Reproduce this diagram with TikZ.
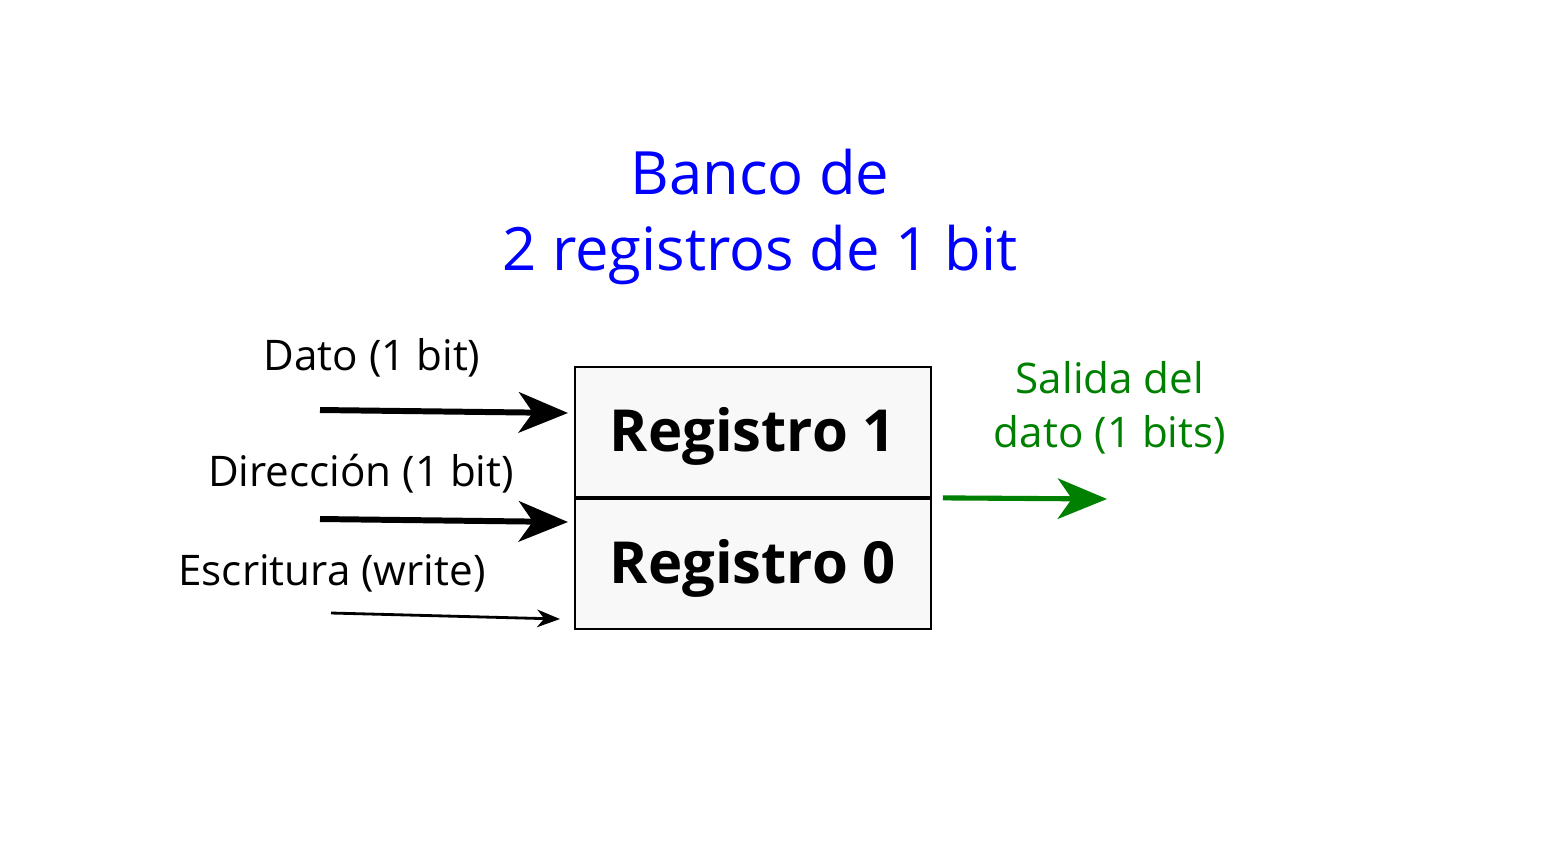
\documentclass[tikz,border=0pt]{standalone}
\usepackage{fontspec}
\setmainfont{Open Sans}
\usetikzlibrary{arrows.meta,positioning,calc}
\definecolor{salida}{RGB}{0,128,0}
\definecolor{regfill}{RGB}{248,248,248}

\begin{document}
\begin{tikzpicture}[x=0.02cm,y=-0.02cm,
    reg/.style={draw,line width=1pt,fill=regfill,minimum width=356*0.02cm,minimum height=130*0.02cm,
                inner sep=0pt,text height=22pt,text depth=0pt,font=\fontsize{33}{40}\selectfont\bfseries},
    lbl/.style={font=\fontsize{24}{28}\selectfont},
    gruesa/.style={line width=3.4pt,-{Stealth[length=28pt,width=23pt,inset=8pt]}},
    fina/.style={line width=1.6pt,-{Stealth[length=13pt,width=10pt,inset=4pt]}}]
    \useasboundingbox (0,0) rectangle (1558,840);

    % title
    \node[text=blue,align=center,font=\fontsize{34}{43.5}\selectfont] (titulo) at (760,217) {Banco de\\2 registros de 1 bit};

    % the two registers
    \node[reg] (reg1) at (753,432) {Registro 1};
    \node[reg,below=0pt of reg1] (reg0) {Registro 0};

    % inputs
    \coordinate (dato) at (320,410);
    \coordinate (datoFin) at (568,413);
    \coordinate (dir) at (320,519);
    \coordinate (dirFin) at (568,522);
    \coordinate (esc) at (331,613);
    \coordinate (escFin) at (560,619);

    \draw[gruesa] (dato) -- (datoFin);
    \draw[gruesa] (dir) -- (dirFin);
    \draw[fina] (esc) -- (escFin);

    \node[lbl] (ldato) at (372,358) {Dato (1 bit)};
    \node[lbl] (ldir) at (361,474) {Dirección (1 bit)};
    \node[lbl] (lesc) at (332,573) {Escritura (write)};

    % output
    \coordinate (salFin) at (1107,499);
    \draw[gruesa,line width=2.9pt,salida] ($(reg1.south east)+(11,0)$) -- (salFin);
    \node[lbl,text=salida,align=center,font=\fontsize{24}{31}\selectfont] (lsal) at (1110,408) {Salida del\\dato (1 bits)};
\end{tikzpicture}
\end{document}
